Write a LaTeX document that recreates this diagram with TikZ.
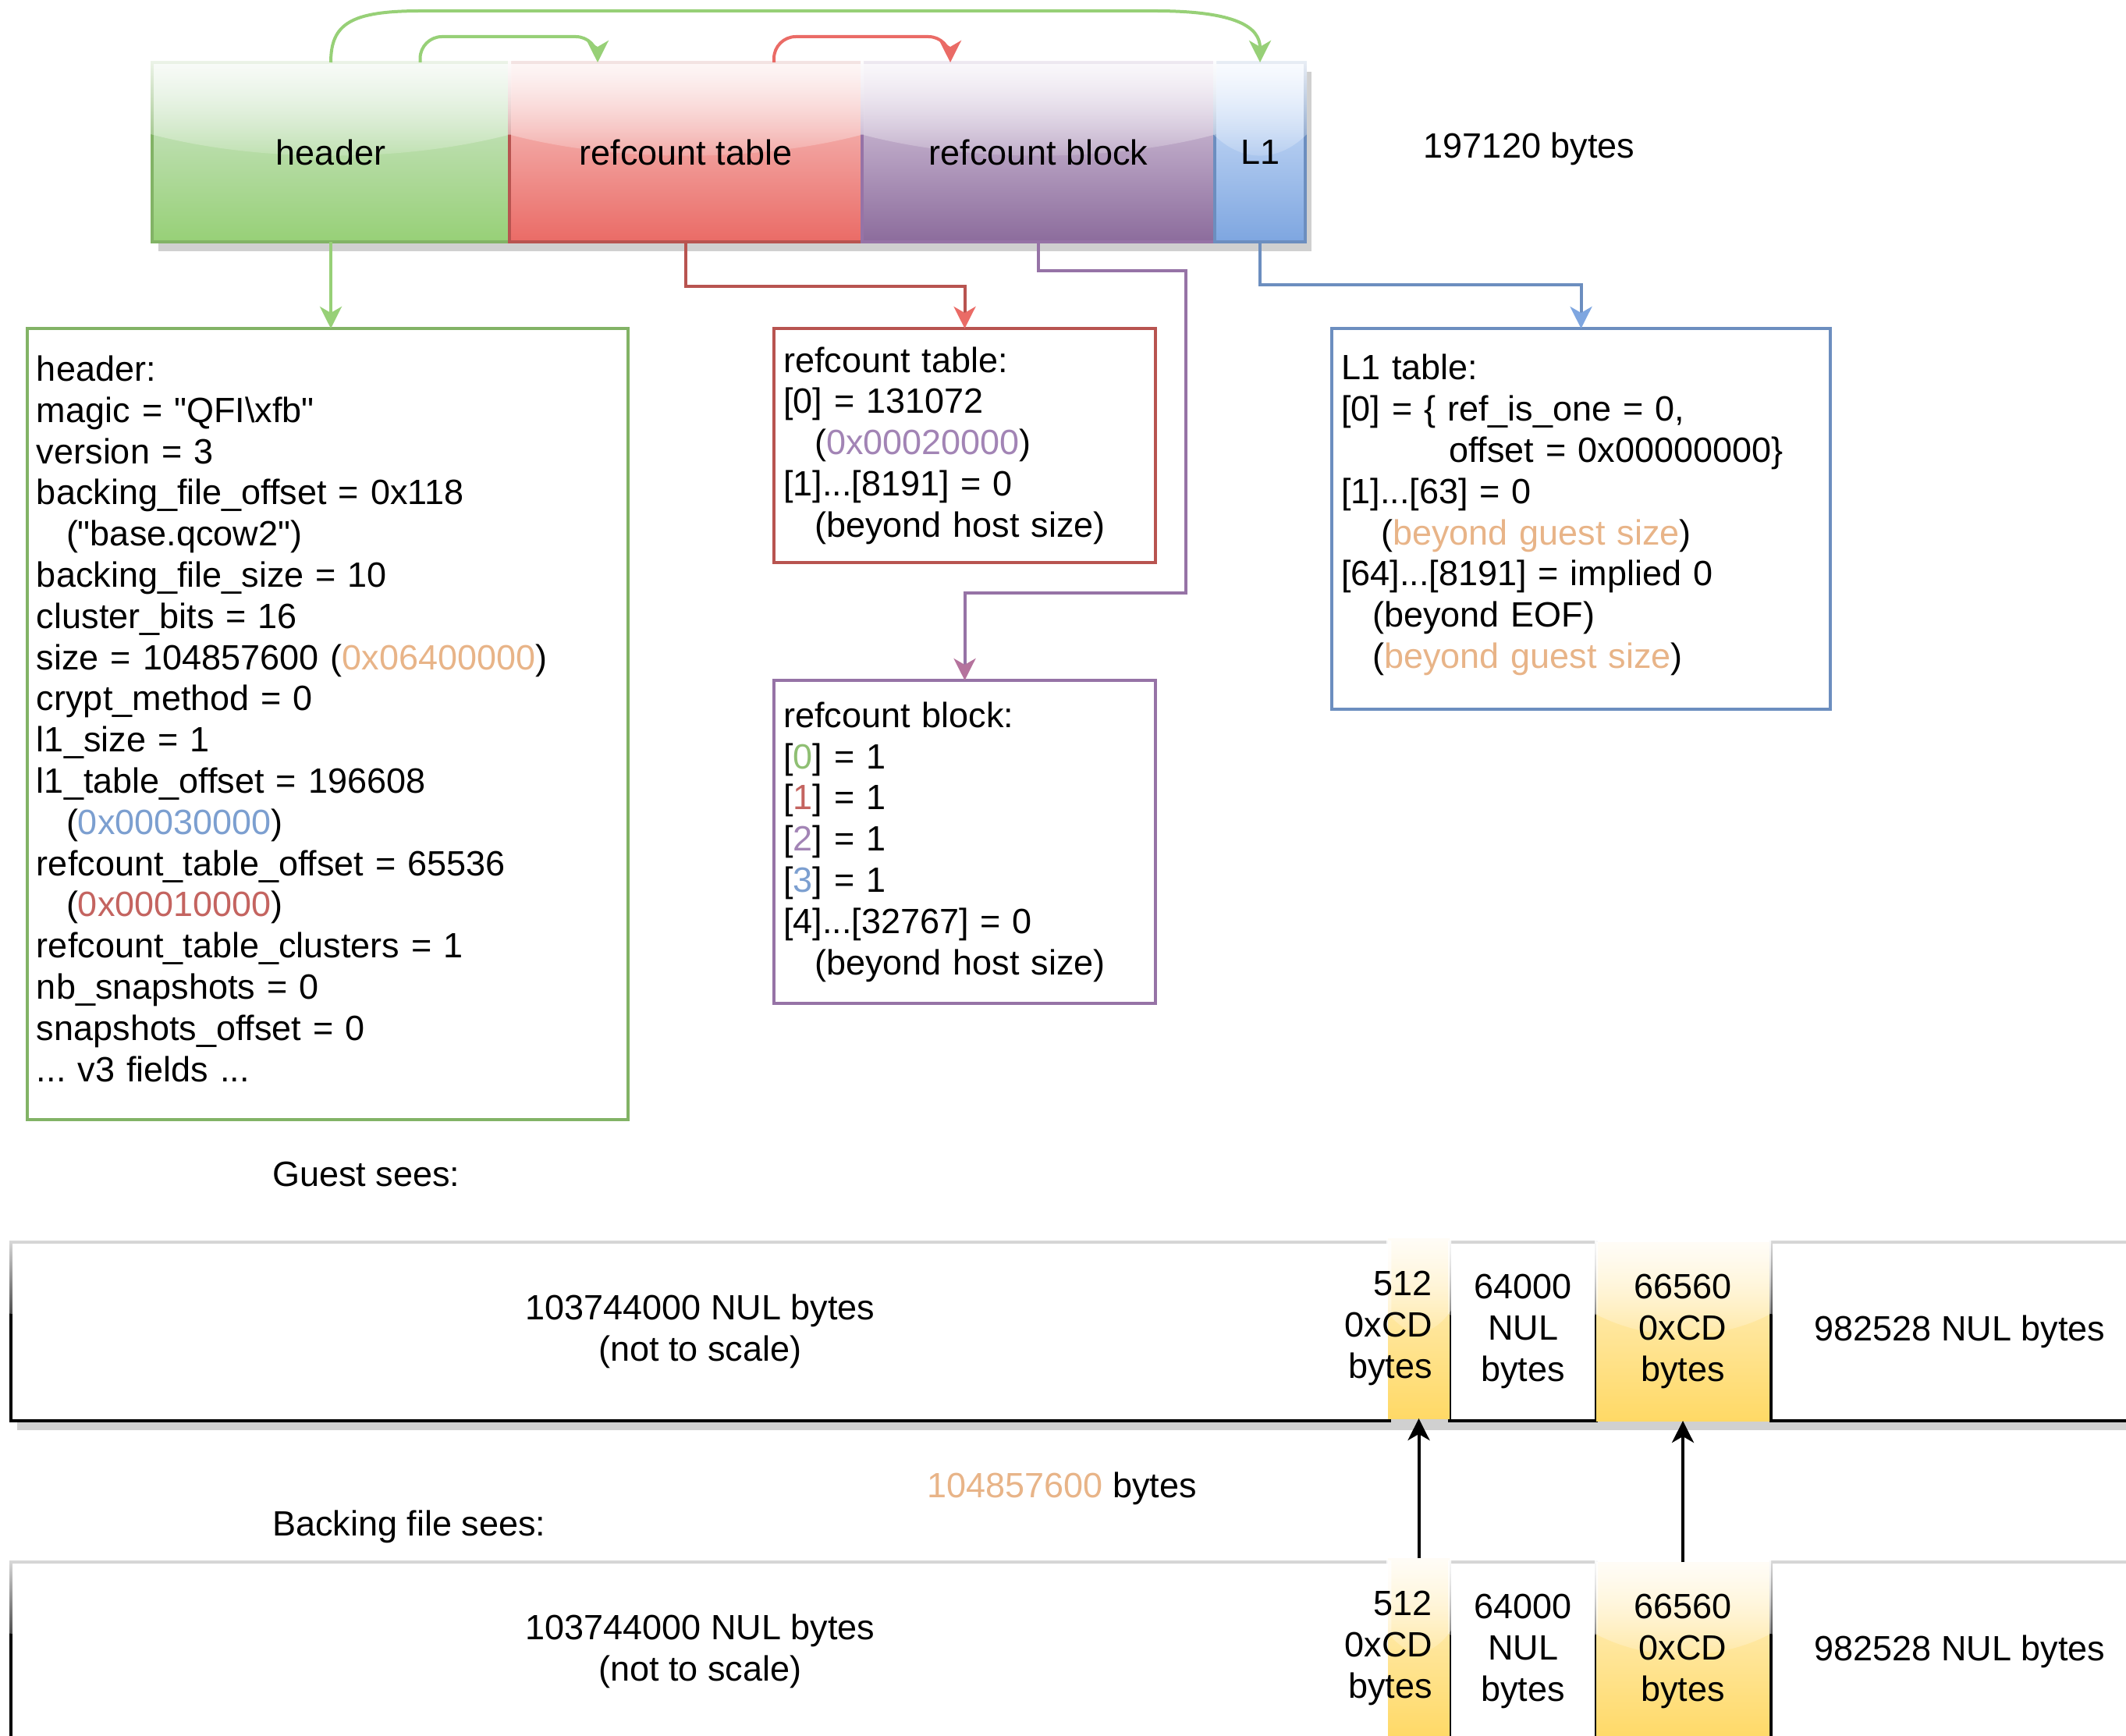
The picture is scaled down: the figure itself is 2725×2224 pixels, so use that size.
\documentclass[tikz,border=0pt]{standalone}
\usepackage{fontspec}
\setmainfont{Liberation Sans}
\usetikzlibrary{arrows.meta,calc,fadings}

\pgfdeclarelayer{background}
\pgfsetlayers{background,main}

% cell fills and strokes
\definecolor{hdrtop}{HTML}{D5E8D4}
\definecolor{hdrbot}{HTML}{97D077}
\definecolor{hdrline}{HTML}{82B366}
\definecolor{rttop}{HTML}{F8CECC}
\definecolor{rtbot}{HTML}{EA6B66}
\definecolor{rtline}{HTML}{B85450}
\definecolor{rbtop}{HTML}{E1D5E7}
\definecolor{rbbot}{HTML}{8C6C9C}
\definecolor{rbline}{HTML}{9673A6}
\definecolor{lotop}{HTML}{DAE8FC}
\definecolor{lobot}{HTML}{7EA6E0}
\definecolor{loline}{HTML}{6C8EBF}
\definecolor{yeltop}{HTML}{FFF2CC}
\definecolor{yelbot}{HTML}{FFD966}
\definecolor{shadowc}{HTML}{D0D0D0}
% connector colours
\definecolor{grnedgec}{HTML}{97D077}
\definecolor{redarc}{HTML}{EA6B66}
\definecolor{rbhead}{HTML}{B5739D}
% highlighted text
\definecolor{orangetxt}{HTML}{E8B488}
\definecolor{bluetxt}{HTML}{7C9FD0}
\definecolor{redtxt}{HTML}{C46460}
\definecolor{purpletxt}{HTML}{A284B5}
\definecolor{greentxt}{HTML}{8FBF73}

% glossy overlay used on every bar cell
\tikzfading[name=glassfade, top color=transparent!15, bottom color=transparent!90]

\newcommand\glasson[1]{%
  \fill[white, path fading=glassfade]
    let \p1=(#1.north west), \p2=(#1.south east),
        \n1={0.4*(\y1-\y2)}, \n2={\x2-\x1} in
    (\x1-0.5pt,\y1+0.5pt) -- (\x1-0.5pt,\y1-\n1)
    .. controls (\x1+0.3*\n2,\y1-1.4*\n1) and (\x1+0.7*\n2,\y1-1.4*\n1) ..
    (\x2+0.5pt,\y1-\n1) -- (\x2+0.5pt,\y1+0.5pt) -- cycle;}

\begin{document}
\begin{tikzpicture}[x=0.25pt, y=-0.25pt,
  every node/.style={font=\fontsize{11.25pt}{13.2pt}\selectfont\frenchspacing, inner sep=0pt, outer sep=0pt},
  topcell/.style={rectangle, anchor=north west, minimum height=57.5pt, line width=1pt},
  infobox/.style={rectangle, anchor=north west, align=left, inner xsep=3pt, inner ysep=0pt, line width=1pt},
  bcell/.style={rectangle, anchor=north west, fill=white, draw=black, line width=1pt, minimum height=57.25pt},
  ycell/.style={rectangle, anchor=north west, top color=yeltop, bottom color=yelbot, draw=none},
  tip/.style={-{Stealth[length=7pt,width=7pt,inset=2pt,color=#1]}},
  grnedge/.style={draw=grnedgec, line width=1pt, tip=grnedgec},
  rededge/.style={draw=redarc, line width=1pt, tip=redarc},
  rtedge/.style={draw=rtline, line width=1pt, tip=redarc},
  rbedge/.style={draw=rbline, line width=1pt, tip=rbhead},
  loedge/.style={draw=loline, line width=1pt, tip=lobot},
  blkedge/.style={draw=black, line width=1pt, tip=black}
]
\useasboundingbox (0,0) rectangle (2725,2224);
\clip (0,0) rectangle (2725,2224);

% ---------------- file layout bar ----------------
\node[topcell, minimum width=114.5pt, top color=hdrtop, bottom color=hdrbot, draw=hdrline] (hdr) at (195,80) {};
\node[topcell, minimum width=113pt, top color=rttop, bottom color=rtbot, draw=rtline] (rtc) at (653,80) {};
\node[topcell, minimum width=113pt, top color=rbtop, bottom color=rbbot, draw=rbline] (rbc) at (1105,80) {};
\node[topcell, minimum width=29pt, top color=lotop, bottom color=lobot, draw=loline] (l1c) at (1557,80) {};
\begin{pgfonlayer}{background}
  \fill[shadowc] ([shift={(2pt,-3pt)}]hdr.north west) rectangle ([shift={(2pt,-3pt)}]l1c.south east);
\end{pgfonlayer}
\glasson{hdr}\glasson{rtc}\glasson{rbc}\glasson{l1c}
\node (hdrtxt) at (hdr) {header};
\node (rtctxt) at (rtc) {refcount table};
\node (rbctxt) at (rbc) {refcount block};
\node (l1ctxt) at (l1c) {L1};
\node (total) at (1960,191) {197120 bytes};

% ---------------- detail boxes ----------------
\node[infobox, draw=hdrline, text width=186.5pt, minimum height=253.5pt] (hbox) at (35,421) {%
header:\\
magic = \textquotedbl QFI\textbackslash xfb\textquotedbl\\
version = 3\\
backing\_file\_offset = 0x118\\
\hspace*{9.5pt}(\textquotedbl base.qcow2\textquotedbl)\\
backing\_file\_size = 10\\
cluster\_bits = 16\\
size = 104857600 ({\color{orangetxt}0x06400000})\\
crypt\_method = 0\\
l1\_size = 1\\
l1\_table\_offset = 196608\\
\hspace*{9.5pt}({\color{bluetxt}0x00030000})\\
refcount\_table\_offset = 65536\\
\hspace*{9.5pt}({\color{redtxt}0x00010000})\\
refcount\_table\_clusters = 1\\
nb\_snapshots = 0\\
snapshots\_offset = 0\\
... v3 fields ...\rule[-3.5pt]{0pt}{0pt}};

\node[infobox, draw=rtline, text width=116.25pt, minimum height=75pt] (rtbox) at (992,421) {%
refcount table:\\{}%
[0] = 131072\\
\hspace*{10pt}({\color{purpletxt}0x00020000})\\{}%
[1]...[8191] = 0\\
\hspace*{10pt}(beyond host size)};

\node[infobox, draw=rbline, text width=116.25pt, minimum height=103.5pt] (rbbox) at (992,872) {%
refcount block:\\{}%
[{\color{greentxt}0}] = 1\\{}%
[{\color{redtxt}1}] = 1\\{}%
[{\color{purpletxt}2}] = 1\\{}%
[{\color{bluetxt}3}] = 1\\{}%
[4]...[32767] = 0\\
\hspace*{10pt}(beyond host size)};

\node[infobox, draw=loline, text width=153.75pt, minimum height=122pt] (l1box) at (1707,421) {%
L1 table:\\{}%
[0] = \{ ref\_is\_one = 0,\\
\hspace*{34.5pt}offset = 0x00000000\}\\{}%
[1]...[63] = 0\\
\hspace*{12.75pt}({\color{orangetxt}beyond guest size})\\{}%
[64]...[8191] = implied 0\\
\hspace*{10pt}(beyond EOF)\\
\hspace*{10pt}({\color{orangetxt}beyond guest size})\rule[-4.8pt]{0pt}{0pt}};

% ---------------- connectors between layout and boxes ----------------
\draw[grnedge] (hdr.north) .. controls (424,30) and (450,14) .. (540,14)
  -- (1480,14) .. controls (1585,14) and (1615,35) .. (l1c.north);
\draw[grnedge, rounded corners=7pt] ($(hdr.north west)!0.75!(hdr.north east)$) -- ++(0,-33)
  -| ($(rtc.north west)!0.25!(rtc.north east)$);
\draw[rededge, rounded corners=7pt] ($(rtc.north west)!0.75!(rtc.north east)$) -- ++(0,-33)
  -| ($(rbc.north west)!0.25!(rbc.north east)$);
\draw[grnedge] (hdr.south) -- (hdr.south |- hbox.north);
\draw[rtedge] (rtc.south) -- ++(0,57) -| (rtbox.north);
\coordinate (rbbend) at (1520,760);
\draw[rbedge] (rbc.south) -- ++(0,37) -| (rbbend) -| (rbbox.north);
\draw[loedge] (l1c.south) -- ++(0,55) -| (l1box.north);

% ---------------- guest view ----------------
\node[anchor=west] (guestlbl) at (349,1505) {Guest sees:};
\node[bcell, minimum width=441.75pt] (g1) at (14,1592) {};
\node[bcell, minimum width=47pt] (g3) at (1858,1592) {};
\node[bcell, minimum width=121pt] (g5) at (2270,1592) {};
\node[ycell, minimum width=19.75pt, minimum height=57.75pt] (g2) at (1779,1587) {};
\node[ycell, minimum width=55.5pt, minimum height=57.25pt] (g4) at (2046,1592) {};
\begin{pgfonlayer}{background}
  \fill[shadowc] ([shift={(2pt,-3pt)}]g1.north west) rectangle ([shift={(2pt,-3pt)}]g5.south east);
\end{pgfonlayer}
\glasson{g1}\glasson{g3}\glasson{g5}\glasson{g2}\glasson{g4}
\node[align=center] (g1txt) at (g1) {103744000 NUL bytes\\(not to scale)};
\node[anchor=east, align=right] (g2txt) at ([xshift=-5.5pt]g2.east) {512\\0xCD\\bytes};
\node[align=center] (g3txt) at (g3) {64000\\NUL\\bytes};
\node[align=center] (g4txt) at (g4) {66560\\0xCD\\bytes};
\node (g5txt) at (g5) {982528 NUL bytes};

\node (disksize) at (1361,1908) {{\color{orangetxt}104857600} bytes};

% ---------------- backing file view ----------------
\node[anchor=west] (backlbl) at (349,1957) {Backing file sees:};
\node[bcell, minimum width=441.75pt] (b1) at (14,2002) {};
\node[bcell, minimum width=47pt] (b3) at (1858,2002) {};
\node[bcell, minimum width=121pt] (b5) at (2270,2002) {};
\node[ycell, minimum width=19.75pt, minimum height=57.75pt] (b2) at (1779,1997) {};
\node[ycell, minimum width=55.5pt, minimum height=57.25pt] (b4) at (2046,2002) {};
\begin{pgfonlayer}{background}
  \fill[shadowc] ([shift={(2pt,-3pt)}]b1.north west) rectangle ([shift={(2pt,-3pt)}]b5.south east);
\end{pgfonlayer}
\glasson{b1}\glasson{b3}\glasson{b5}\glasson{b2}\glasson{b4}
\node[align=center] (b1txt) at (b1) {103744000 NUL bytes\\(not to scale)};
\node[anchor=east, align=right] (b2txt) at ([xshift=-5.5pt]b2.east) {512\\0xCD\\bytes};
\node[align=center] (b3txt) at (b3) {64000\\NUL\\bytes};
\node[align=center] (b4txt) at (b4) {66560\\0xCD\\bytes};
\node (b5txt) at (b5) {982528 NUL bytes};

% ---------------- data copied from backing file ----------------
\draw[blkedge] (b2.north) -- (g2.south);
\draw[blkedge] (b4.north) -- (g4.south);
\end{tikzpicture}
\end{document}
